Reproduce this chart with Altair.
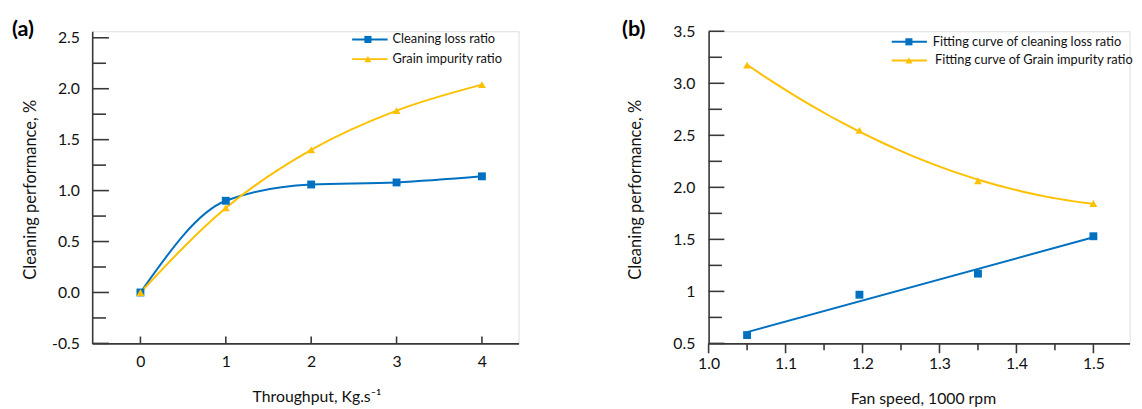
import altair as alt
import pandas as pd

# ---------------- data ----------------
a_throughput = [0, 1, 2, 3, 4]
a_loss = [0.00, 0.90, 1.06, 1.08, 1.14]
a_impurity = [0.00, 0.83, 1.40, 1.785, 2.04]
a_series = ["Cleaning loss ratio", "Grain impurity ratio"]

b_fan = [1.05, 1.196, 1.35, 1.50]
b_loss = [0.58, 0.968, 1.171, 1.53]
b_impurity = [3.174, 2.547, 2.063, 1.845]
b_series = ["Fitting curve of cleaning loss ratio", "Fitting curve of Grain impurity ratio"]

a_x_ticks = [0, 1, 2, 3, 4]
a_y_major = [-0.5, 0.0, 0.5, 1.0, 1.5, 2.0, 2.5]
a_y_minor = [-0.25, 0.25, 0.75, 1.25, 1.75, 2.25]
b_x_major = [1.0, 1.1, 1.2, 1.3, 1.4, 1.5]
b_x_minor = [1.05, 1.15, 1.25, 1.35, 1.45]
b_y_major = [0.5, 1.0, 1.5, 2.0, 2.5, 3.0, 3.5]
b_y_minor = [0.75, 1.25, 1.75, 2.25, 2.75, 3.25]

panel_labels = ["(a)", "(b)"]

# ---------------- style ----------------
BLUE = "#0070C0"
YELLOW = "#FFC000"
AXIS = "#383838"
FONT = "Lato"
AW, AH = 433, 317
BW, BH = 427.5, 317

df_a = pd.DataFrame({
    "x": a_throughput * 2,
    "y": a_loss + a_impurity,
    "series": [a_series[0]] * len(a_loss) + [a_series[1]] * len(a_impurity),
})
df_b = pd.DataFrame({
    "x": b_fan * 2,
    "y": b_loss + b_impurity,
    "series": [b_series[0]] * len(b_loss) + [b_series[1]] * len(b_impurity),
})


def common_axis(**kw):
    base = dict(grid=False, ticks=False, tickSize=0, domainColor=AXIS, domainWidth=1.6,
                labelFont=FONT, labelFontSize=16, labelColor="#111", labelFlush=False,
                labelOverlap=False, titleFont=FONT, titleFontSize=16,
                titleFontWeight="normal", titleColor="#111")
    base.update(kw)
    return alt.Axis(**base)


def tick_layer(values, channel, enc, start, end):
    df = pd.DataFrame({channel: values})
    ch = alt.Chart(df).mark_rule(color=AXIS, strokeWidth=1.6)
    if channel == "y":
        return ch.encode(y=enc, x=alt.value(start), x2=alt.value(end))
    return ch.encode(x=enc, y=alt.value(start), y2=alt.value(end))


def legend_layers(labels, colors, shapes, x0, x1, xs, xts, ys):
    out = []
    for lab, col, shp, xt, yy in zip(labels, colors, shapes, xts, ys):
        d = pd.DataFrame({"s": [lab]})
        out.append(alt.Chart(d).mark_rule(color=col, strokeWidth=2).encode(
            x=alt.value(x0), x2=alt.value(x1), y=alt.value(yy)))
        out.append(alt.Chart(d).mark_point(shape=shp, filled=True, color=col, size=52, opacity=1).encode(
            x=alt.value(xs), y=alt.value(yy)))
        out.append(alt.Chart(d).mark_text(align="left", baseline="middle", font=FONT,
                                          fontSize=13, color="#111").encode(
            x=alt.value(xt), y=alt.value(yy), text="s:N"))
    return out


def panel_label(text, x, y):
    return alt.Chart(pd.DataFrame({"t": [text]})).mark_text(
        align="left", baseline="middle", font=FONT, fontSize=22, fontWeight="bold", color="#000"
    ).encode(x=alt.value(x), y=alt.value(y), text="t:N")


# ---------------- panel (a) ----------------
xs_a = alt.Scale(domain=[-0.565, 4.429], nice=False, zero=False)
ys_a = alt.Scale(domain=[-0.5, 2.564], nice=False, zero=False)
col_a = alt.Color("series:N", scale=alt.Scale(domain=a_series, range=[BLUE, YELLOW]), legend=None)
shp_a = alt.Shape("series:N", scale=alt.Scale(domain=a_series, range=["square", "triangle-up"]), legend=None)

x_a = alt.X("x:Q", scale=xs_a, axis=common_axis(
    values=a_x_ticks, format="d", labelPadding=10,
    title="Throughput, Kg.s\u207b\u00b9", titleX=227.7, titleY=59,
    titleBaseline="alphabetic", titleAlign="center"))
y_a = alt.Y("y:Q", scale=ys_a, axis=common_axis(
    values=a_y_major, labelExpr="replace(format(datum.value, '.1f'), '\u2212', '-')",
    labelPadding=13, title="Cleaning performance, %", titleFontSize=16.7,
    titleX=-58, titleY=AH / 2 + 2,
    titleAngle=270, titleBaseline="alphabetic", titleAlign="center"))

lines_a = alt.Chart(df_a).mark_line(interpolate="monotone", strokeWidth=2).encode(
    x=x_a, y=y_a, color=col_a, detail="series:N")
points_a = alt.Chart(df_a).mark_point(filled=True, size=64, opacity=1).encode(
    x=x_a, y=y_a, color=col_a, shape=shp_a)

panel_a = alt.layer(
    lines_a, points_a,
    tick_layer(a_y_major, "y", y_a, 0, 17),
    tick_layer(a_y_minor, "y", y_a, 0, 14),
    tick_layer(a_x_ticks, "x", x_a, AH, AH - 7),
    *legend_layers(a_series, [BLUE, YELLOW], ["square", "triangle-up"],
                   264, 300, 280, [305, 305], [8.3, 28.3]),
    panel_label(panel_labels[0], -81.5, -2.7),
).properties(width=AW, height=AH)

# ---------------- panel (b) ----------------
xs_b = alt.Scale(domain=[1.0, 1.547], nice=False, zero=False)
ys_b = alt.Scale(domain=[0.5, 3.5], nice=False, zero=False)

x_b = alt.X("x:Q", scale=xs_b, axis=common_axis(
    values=b_x_major, format=".1f", labelPadding=12,
    title="Fan speed, 1000 rpm", titleX=217.7, titleY=60.6,
    titleBaseline="alphabetic", titleAlign="center"))
y_b = alt.Y("y:Q", scale=ys_b, axis=common_axis(
    values=b_y_major, labelExpr="datum.value == 1 ? '1' : format(datum.value, '.1f')",
    labelPadding=14, title="Cleaning performance, %", titleFontSize=16.7,
    titleX=-69, titleY=BH / 2 + 2,
    titleAngle=270, titleBaseline="alphabetic", titleAlign="center"))

fit_loss = alt.Chart(df_b).transform_filter(
    alt.datum.series == b_series[0]
).transform_regression("x", "y", method="linear", extent=[1.05, 1.5]).mark_line(
    color=BLUE, strokeWidth=2).encode(x=x_b, y=y_b)
fit_imp = alt.Chart(df_b).transform_filter(
    alt.datum.series == b_series[1]
).transform_regression("x", "y", method="poly", order=2, extent=[1.05, 1.5]).mark_line(
    color=YELLOW, strokeWidth=2).encode(x=x_b, y=y_b)

col_b = alt.Color("series:N", scale=alt.Scale(domain=b_series, range=[BLUE, YELLOW]), legend=None)
shp_b = alt.Shape("series:N", scale=alt.Scale(domain=b_series, range=["square", "triangle-up"]), legend=None)
points_b = alt.Chart(df_b).mark_point(filled=True, size=64, opacity=1).encode(
    x=x_b, y=y_b, color=col_b, shape=shp_b)

panel_b = alt.layer(
    fit_loss, fit_imp, points_b,
    tick_layer(b_y_major, "y", y_b, 0, 16),
    tick_layer(b_y_minor, "y", y_b, 0, 13.5),
    tick_layer(b_x_major, "x", x_b, BH, BH + 10),
    tick_layer(b_x_minor, "x", x_b, BH, BH + 7),
    *legend_layers(b_series, [BLUE, YELLOW], ["square", "triangle-up"],
                   186, 221.7, 203.4, [227.7, 230], [10.7, 29.7]),
    panel_label(panel_labels[1], -88, -2.2),
).properties(width=BW, height=BH)

chart = alt.hconcat(panel_a, panel_b, spacing=103).properties(
    padding={"left": 3.5, "top": 5.5, "right": 0, "bottom": 0}
).configure_view(stroke=None).configure(font=FONT)

chart.save("out.html", embed_options={"renderer": "svg", "actions": False})
